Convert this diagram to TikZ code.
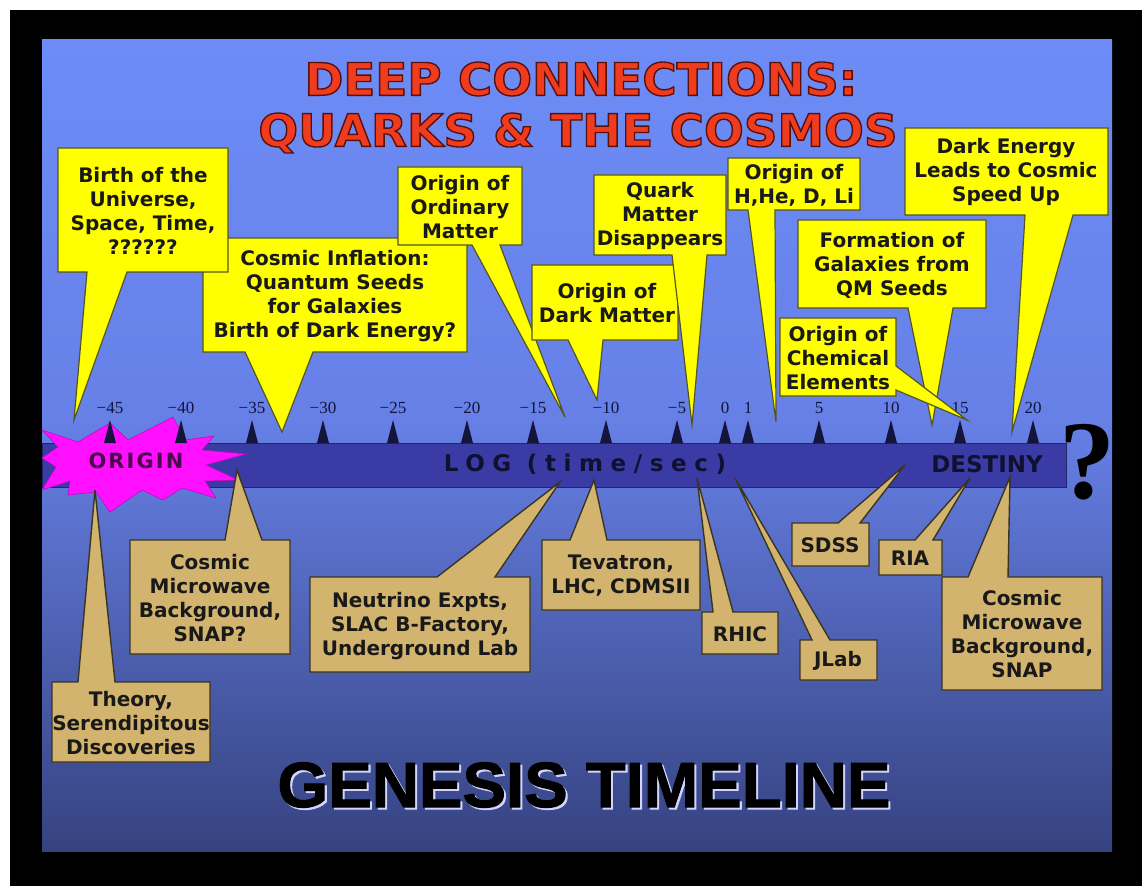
\documentclass[tikz,border=0pt]{standalone}
\usepackage{fontspec}
\setmainfont{DejaVu Sans}
\newfontfamily\lsans{Liberation Sans}
\newfontfamily\lserif{Liberation Serif}
\newfontfamily\spacedsans[LetterSpace=33]{DejaVu Sans}
\newfontfamily\originfont[LetterSpace=10]{DejaVu Sans}
\newfontface\heavytitle[FakeBold=3]{DejaVu Sans Bold}
\newfontface\heavygen[FakeBold=1.5]{Liberation Sans Bold}
\newcommand{\shadowed}[4]{\rlap{\hspace{#1}\raisebox{#2}{\color{#3}#4}}#4}
\newcommand{\darkrim}{\special{pdf:literal direct 0.35 0.06 0.04 RG}}
\definecolor{bgtop}{HTML}{6D8CF7}
\definecolor{bgmid}{HTML}{6680E6}
\definecolor{bgbot}{HTML}{364380}
\definecolor{titlered}{HTML}{F03C1E}
\definecolor{barblue}{HTML}{3B3BA6}
\definecolor{bardark}{HTML}{24246E}
\definecolor{callyellow}{HTML}{FFFF00}
\definecolor{yborder}{HTML}{55551E}
\definecolor{calltan}{HTML}{D2B46E}
\definecolor{tborder}{HTML}{3A3420}
\definecolor{ticknavy}{HTML}{14143C}
\definecolor{starmag}{HTML}{FF10FF}
\definecolor{origintext}{HTML}{4A0A4A}
\definecolor{bartext}{HTML}{101030}
\definecolor{glow}{HTML}{D0D4FF}
\begin{document}
\begin{tikzpicture}[x=1pt,y=-1pt,
  ybox/.style={fill=callyellow, draw=yborder, line width=1.2pt, line join=miter},
  tbox/.style={fill=calltan, draw=tborder, line width=1.4pt, line join=miter},
  ctext/.style={font=\bfseries\fontsize{20}{24}\selectfont, align=center, text=black!90, inner sep=0pt},
  titlefont/.style={font=\heavytitle\fontsize{45}{54}\selectfont, inner sep=0pt, text=titlered},
  ticklabel/.style={font=\lserif\fontsize{17}{20}\selectfont, text=ticknavy, inner sep=0pt},
  bartxt/.style={font=\spacedsans\bfseries\fontsize{23}{26}\selectfont, text=bartext, inner sep=0pt}]
\useasboundingbox (0,0) rectangle (1145,890);
% frame and background
\fill[white] (0,0) rectangle (1145,890);
\fill[black] (10,10) rectangle (1142,886);
\shade[top color=bgtop, bottom color=bgmid] (42,40) rectangle (1112,420.5);
\shade[top color=bgmid, bottom color=bgbot] (42,420) rectangle (1112,851);
% title
\node[titlefont] (t1) at (581,79) {\scalebox{1.04}[1]{\darkrim DEEP CONNECTIONS:}};
\node[titlefont] (t2) at (578,133) {\scalebox{1.04}[1]{\darkrim QUARKS \& THE COSMOS}};
% timeline bar
\path[fill=barblue, draw=bardark, line width=1pt] (42,443) rectangle (1066,487);
% starburst
\path[fill=starmag, draw=starmag!75!black, line width=0.6pt]
  (42,430) -- (78,442) -- (110,423) -- (128,440) -- (173,417) -- (185,440) -- (214,436)
  -- (202,450) -- (246,454) -- (206,465) -- (238,480) -- (205,481) -- (216,498)
  -- (182,488) -- (163,500) -- (142,490) -- (110,512) -- (96,492) -- (68,495)
  -- (70,481) -- (42,490) -- (56,467) -- (42,458) -- (58,447) -- cycle;
% ticks
\foreach \x/\lab in {110/{−45},181/{−40},252/{−35},323/{−30},393/{−25},467/{−20},533/{−15},606/{−10},677/{−5},725/{0},748/{1},819/{5},891/{10},960/{15},1033/{20}} {
  \fill[ticknavy] (\x-6,443) -- (\x+6,443) -- (\x,420) -- cycle;
  \node[ticklabel] (tl\x) at (\x,408) {\lab};
}
% bar texts
\node[font=\originfont\bfseries\fontsize{21}{25}\selectfont, text=origintext, inner sep=0pt] (origin) at (136,461) {ORIGIN};
\node[bartxt] (logt) at (585,464) {LOG (time/sec)};
\node[font=\bfseries\fontsize{23}{26}\selectfont, text=bartext, inner sep=0pt] (destiny) at (987,464) {DESTINY};
\node[font=\lserif\bfseries\fontsize{112}{120}\selectfont, text=black, inner sep=0pt, anchor=base] (qmark) at (1087,498) {?};
% yellow callouts
\path[ybox] (203,238) -- (467,238) -- (467,352) -- (313,352) -- (282,432) -- (245,352) -- (203,352) -- cycle;
\path[ybox] (58,148) -- (228,148) -- (228,272) -- (127,272) -- (74,420) -- (87,272) -- (58,272) -- cycle;
\path[ybox] (398,167) -- (522,167) -- (522,245) -- (500,245) -- (565,417) -- (472,245) -- (398,245) -- cycle;
\path[ybox] (532,265) -- (678,265) -- (678,340) -- (603,340) -- (597,400) -- (568,340) -- (532,340) -- cycle;
\path[ybox] (594,175) -- (726,175) -- (726,255) -- (707,255) -- (692,425) -- (672,255) -- (594,255) -- cycle;
\path[ybox] (728,158) -- (860,158) -- (860,210) -- (775,210) -- (776,422) -- (748,210) -- (728,210) -- cycle;
\path[ybox] (905,128) -- (1108,128) -- (1108,215) -- (1073,215) -- (1012,432) -- (1025,215) -- (905,215) -- cycle;
\path[ybox] (798,220) -- (986,220) -- (986,308) -- (953,308) -- (932,425) -- (908,308) -- (798,308) -- cycle;
\path[ybox] (780,318) -- (896,318) -- (896,366) -- (967,420) -- (896,390) -- (896,396) -- (780,396) -- cycle;
% tan callouts
\path[tbox] (52,682) -- (78,682) -- (95,490) -- (115,682) -- (210,682) -- (210,762) -- (52,762) -- cycle;
\path[tbox] (130,540) -- (225,540) -- (237,470) -- (262,540) -- (290,540) -- (290,654) -- (130,654) -- cycle;
\path[tbox] (310,577) -- (437,577) -- (560,482) -- (495,577) -- (530,577) -- (530,672) -- (310,672) -- cycle;
\path[tbox] (542,540) -- (570,540) -- (594,480) -- (607,540) -- (700,540) -- (700,610) -- (542,610) -- cycle;
\path[tbox] (702,612) -- (713,612) -- (697,478) -- (733,612) -- (778,612) -- (778,654) -- (702,654) -- cycle;
\path[tbox] (800,640) -- (812,640) -- (735,478) -- (830,640) -- (877,640) -- (877,680) -- (800,680) -- cycle;
\path[tbox] (792,523) -- (838,523) -- (905,465) -- (860,523) -- (869,523) -- (869,566) -- (792,566) -- cycle;
\path[tbox] (879,540) -- (915,540) -- (970,478) -- (933,540) -- (942,540) -- (942,575) -- (879,575) -- cycle;
\path[tbox] (942,577) -- (968,577) -- (1010,477) -- (1008,577) -- (1102,577) -- (1102,690) -- (942,690) -- cycle;
% callout texts
\node[ctext] (birth) at (143,211) {Birth of the\\Universe,\\Space, Time,\\??????};
\node[ctext] (infl) at (335,296) {Cosmic Inflation:\\Quantum Seeds\\for Galaxies\\Birth of Dark Energy?};
\node[ctext] (ordin) at (460,207) {Origin of\\Ordinary\\Matter};
\node[ctext] (dm) at (607,303) {Origin of\\Dark Matter};
\node[ctext] (quark) at (660,216) {Quark\\Matter\\Disappears};
\node[ctext] (hhe) at (794,185) {Origin of\\H,He, D, Li};
\node[ctext] (de) at (1006,172) {Dark Energy\\Leads to Cosmic\\Speed Up};
\node[ctext] (form) at (892,265) {Formation of\\Galaxies from\\QM Seeds};
\node[ctext] (chem) at (838,358) {Origin of\\Chemical\\Elements};
\node[ctext] (theory) at (131,723) {Theory,\\Serendipitous\\Discoveries};
\node[ctext] (cmba) at (210,598) {Cosmic\\Microwave\\Background,\\SNAP?};
\node[ctext] (neut) at (420,626) {Neutrino Expts,\\SLAC B-Factory,\\Underground Lab};
\node[ctext] (tev) at (621,576) {Tevatron,\\LHC, CDMSII};
\node[ctext] (rhic) at (740,634) {RHIC};
\node[ctext] (jlab) at (838,661) {JLab};
\node[ctext] (sdss) at (830,545) {SDSS};
\node[ctext] (ria) at (910,558) {RIA};
\node[ctext] (cmbb) at (1022,634) {Cosmic\\Microwave\\Background,\\SNAP};
% bottom title
\node[font=\heavygen\fontsize{64}{70}\selectfont, text=black, inner sep=0pt] (gen) at (584,786) {\scalebox{1.02}[1]{\shadowed{2pt}{-2pt}{glow}{GENESIS TIMELINE}}};
\end{tikzpicture}
\end{document}
